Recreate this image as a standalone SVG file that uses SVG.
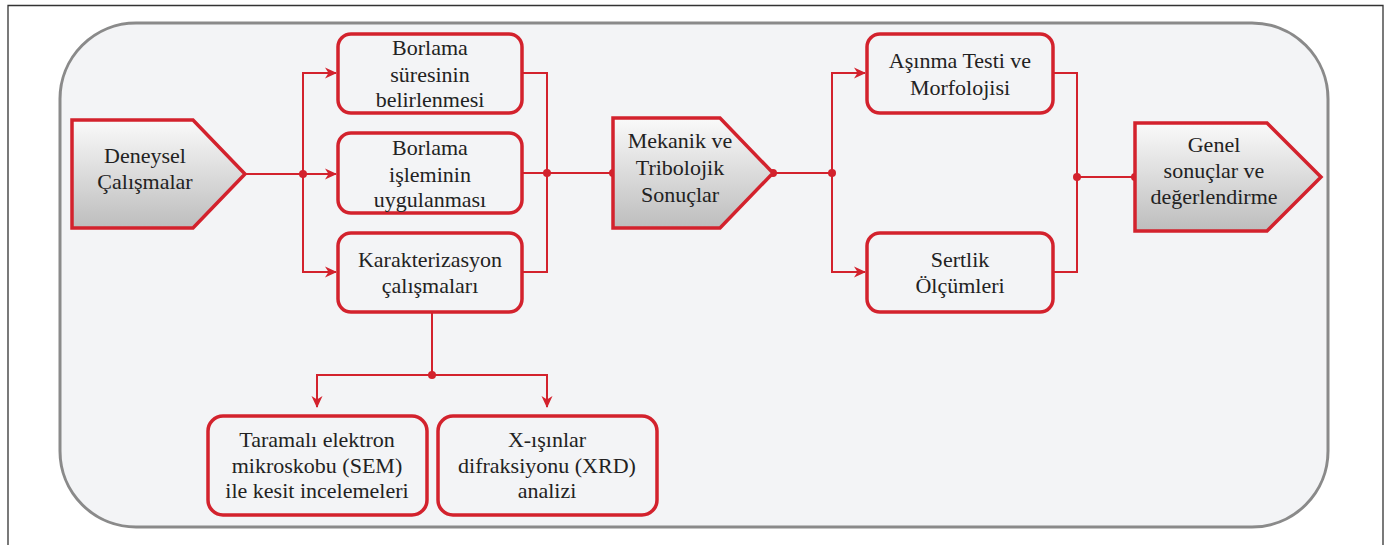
<svg xmlns="http://www.w3.org/2000/svg" width="1387" height="545" viewBox="0 0 1387 545">
<defs>
<linearGradient id="pg" x1="0" y1="0" x2="0" y2="1">
<stop offset="0" stop-color="#fafafa"/>
<stop offset="1" stop-color="#bdbdbd"/>
</linearGradient>
<marker id="ah" markerUnits="userSpaceOnUse" markerWidth="12" markerHeight="12" viewBox="0 0 12 12" refX="11" refY="6" orient="auto">
<path d="M0,0.5 L12,6 L0,11.5 L3.5,6 Z" fill="#d3222d"/>
</marker>
<style>
.box{fill:#f3f4f6;stroke:#d3222d;stroke-width:3.5}
.pent{fill:url(#pg);stroke:#d3222d;stroke-width:3.5;stroke-linejoin:miter}
.con{fill:none;stroke:#d3222d;stroke-width:2}
.dot{fill:#d3222d}
.t{font-size:22px;fill:#222;text-anchor:middle}
</style>
</defs>
<rect x="0" y="0" width="1387" height="545" fill="#ffffff"/>
<path d="M8,548 V5.5 H1383 V548" fill="none" stroke="#333" stroke-width="1.3"/>
<rect id="frame" x="60" y="23" width="1268" height="504" rx="76" ry="76" fill="#f3f4f6" stroke="#8a8a8a" stroke-width="3"/>

<g id="connectors">
<path class="con" d="M245,174 H336" marker-end="url(#ah)"/>
<path class="con" d="M303,174 V73 H336" marker-end="url(#ah)"/>
<path class="con" d="M303,174 V272 H336" marker-end="url(#ah)"/>
<path class="con" d="M522,73 H547 V272 H522"/>
<path class="con" d="M522,173 H613"/>
<path class="con" d="M773,173 H832"/>
<path class="con" d="M832,173 V73 H865" marker-end="url(#ah)"/>
<path class="con" d="M832,173 V272 H865" marker-end="url(#ah)"/>
<path class="con" d="M1053,73 H1077 V272 H1053"/>
<path class="con" d="M1077,177 H1135"/>
<path class="con" d="M432,312 V375"/>
<path class="con" d="M432,375 H317 V407" marker-end="url(#ah)"/>
<path class="con" d="M432,375 H547 V407" marker-end="url(#ah)"/>
<circle class="dot" cx="303" cy="174" r="4"/>
<circle class="dot" cx="547" cy="173" r="4"/>
<circle class="dot" cx="613" cy="173" r="4"/>
<circle class="dot" cx="773" cy="173" r="4"/>
<circle class="dot" cx="832" cy="173" r="4"/>
<circle class="dot" cx="1077" cy="177" r="4"/>
<circle class="dot" cx="1135" cy="177" r="4"/>
<circle class="dot" cx="432" cy="375" r="4"/>
</g>

<g font-family="Liberation Serif, DejaVu Serif, serif">
<g id="deneysel">
<path class="pent" d="M72,120 H193 L245,174 L193,228 H72 Z"/>
<text class="t" x="145" y="163">Deneysel</text>
<text class="t" x="145" y="189">Çalışmalar</text>
</g>

<g id="borlama-suresi">
<rect class="box" x="338" y="34" width="184" height="79" rx="13"/>
<text class="t" x="430" y="55">Borlama</text>
<text class="t" x="430" y="82">süresinin</text>
<text class="t" x="430" y="107">belirlenmesi</text>
</g>

<g id="borlama-islemi">
<rect class="box" x="338" y="133" width="184" height="80" rx="13"/>
<text class="t" x="430" y="155">Borlama</text>
<text class="t" x="430" y="182">işleminin</text>
<text class="t" x="430" y="207">uygulanması</text>
</g>

<g id="karakterizasyon">
<rect class="box" x="338" y="233" width="184" height="79" rx="13"/>
<text class="t" x="430" y="267">Karakterizasyon</text>
<text class="t" x="430" y="293">çalışmaları</text>
</g>

<g id="mekanik">
<path class="pent" d="M613,118 H720 L773,173 L720,228 H613 Z"/>
<text class="t" x="680" y="148">Mekanik ve</text>
<text class="t" x="680" y="175">Tribolojik</text>
<text class="t" x="680" y="202">Sonuçlar</text>
</g>

<g id="asinma">
<rect class="box" x="867" y="34" width="186" height="79" rx="13"/>
<text class="t" x="960" y="68">Aşınma Testi ve</text>
<text class="t" x="960" y="95">Morfolojisi</text>
</g>

<g id="sertlik">
<rect class="box" x="867" y="233" width="186" height="79" rx="13"/>
<text class="t" x="960" y="267">Sertlik</text>
<text class="t" x="960" y="293">Ölçümleri</text>
</g>

<g id="genel">
<path class="pent" d="M1135,123 H1267 L1321,177 L1267,231 H1135 Z"/>
<text class="t" x="1214" y="152">Genel</text>
<text class="t" x="1214" y="178">sonuçlar ve</text>
<text class="t" x="1214" y="204">değerlendirme</text>
</g>

<g id="sem">
<rect class="box" x="208" y="416" width="219" height="99" rx="15"/>
<text class="t" x="317" y="447">Taramalı elektron</text>
<text class="t" x="317" y="473">mikroskobu (SEM)</text>
<text class="t" x="317" y="498">ile kesit incelemeleri</text>
</g>

<g id="xrd">
<rect class="box" x="438" y="416" width="219" height="99" rx="15"/>
<text class="t" x="547" y="447">X-ışınlar</text>
<text class="t" x="547" y="473">difraksiyonu (XRD)</text>
<text class="t" x="547" y="498">analizi</text>
</g>
</g>
</svg>
